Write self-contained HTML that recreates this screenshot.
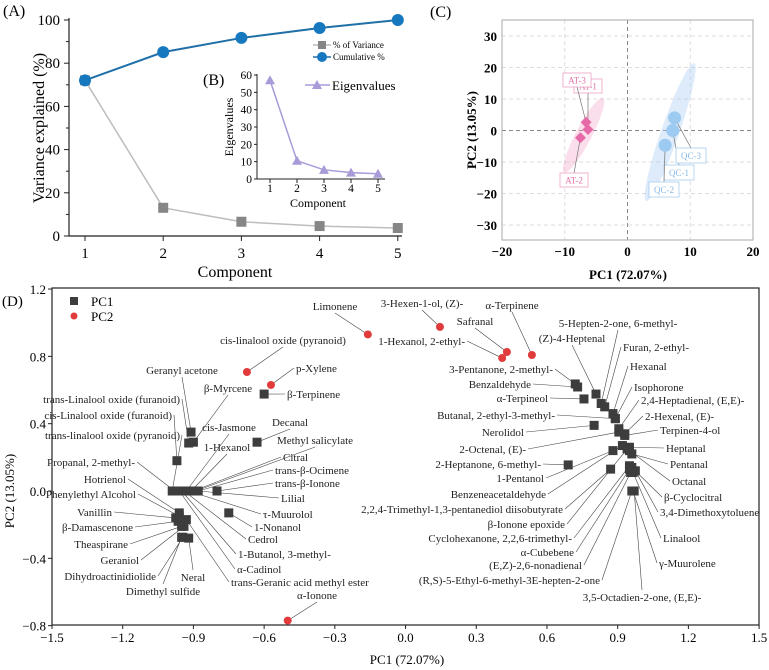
<!DOCTYPE html>
<html><head><meta charset="utf-8">
<style>
html,body{margin:0;padding:0;background:#fff;}
svg{display:block;font-family:"Liberation Serif","Times New Roman",serif;}
</style></head>
<body>
<svg id="fig" width="769" height="670" viewBox="0 0 769 670" xmlns="http://www.w3.org/2000/svg"></svg>
<script>
// ---------- Panel A/B data ----------
const components = [1, 2, 3, 4, 5];
const varianceVals = [72.07, 13.05, 6.6, 4.6, 3.7];
const cumulativeVals = [72.07, 85.12, 91.7, 96.3, 100];
const eigenVals = [57, 10.5, 5.3, 3.7, 3.0];
const aYTicks = [0, 20, 40, 60, 80, 100];
const bYTicks = [0, 10, 20, 30, 40, 50, 60];
// ---------- Panel C data ----------
const cXTicks = [-20, -10, 0, 10, 20];
const cYTicks = [-30, -20, -10, 0, 10, 20, 30];
const atNames = ["AT-1", "AT-2", "AT-3"];
const atPC1 = [-6.3, -7.5, -6.6];
const atPC2 = [0.3, -2.3, 2.6];
const qcNames = ["QC-1", "QC-2", "QC-3"];
const qcPC1 = [7.2, 6.0, 7.5];
const qcPC2 = [0.0, -4.7, 4.0];
// ---------- Panel D data ----------
const dXTicks = [-1.5, -1.2, -0.9, -0.6, -0.3, 0.0, 0.3, 0.6, 0.9, 1.2, 1.5];
const dYTicks = [-0.8, -0.4, 0.0, 0.4, 0.8, 1.2];
const dNames = ["Limonene","cis-linalool oxide (pyranoid)","p-Xylene","α-Ionone","3-Hexen-1-ol, (Z)-","Safranal","1-Hexanol, 2-ethyl-","α-Terpinene",
"Geranyl acetone","β-Myrcene","trans-Linalool oxide (furanoid)","cis-Linalool oxide (furanoid)","β-Terpinene","Decanal","cis-Jasmone","trans-linalool oxide (pyranoid)","1-Hexanol","Methyl salicylate","Citral","Propanal, 2-methyl-","trans-β-Ocimene","Hotrienol","trans-β-Ionone","Phenylethyl Alcohol","Lilial","Vanillin","τ-Muurolol","1-Nonanol","β-Damascenone","Cedrol","Theaspirane","1-Butanol, 3-methyl-","Geraniol","α-Cadinol","Dihydroactinidiolide","Neral","trans-Geranic acid methyl ester","Dimethyl sulfide",
"5-Hepten-2-one, 6-methyl-","(Z)-4-Heptenal","Furan, 2-ethyl-","Hexanal","3-Pentanone, 2-methyl-","Isophorone","Benzaldehyde","α-Terpineol","2,4-Heptadienal, (E,E)-","Butanal, 2-ethyl-3-methyl-","2-Hexenal, (E)-","Nerolidol","Terpinen-4-ol","2-Octenal, (E)-","Heptanal","2-Heptanone, 6-methyl-","Pentanal","1-Pentanol","Octanal","Benzeneacetaldehyde","β-Cyclocitral","2,2,4-Trimethyl-1,3-pentanediol diisobutyrate","3,4-Dimethoxytoluene","β-Ionone epoxide","Linalool","Cyclohexanone, 2,2,6-trimethyl-","α-Cubebene","γ-Muurolene","(E,Z)-2,6-nonadienal","(R,S)-5-Ethyl-6-methyl-3E-hepten-2-one","3,5-Octadien-2-one, (E,E)-"];
const dPC1 = [-0.16,-0.673,-0.571,-0.50,0.146,0.43,0.41,0.536,
-0.91,-0.90,-0.92,-0.97,-0.60,-0.63,-0.93,-0.99,-0.91,-0.89,-0.90,-0.98,-0.88,-0.96,-0.80,-0.96,-0.88,-0.975,-0.92,-0.75,-0.965,-0.94,-0.95,-0.95,-0.94,-0.96,-0.945,-0.92,-0.93,-0.95,
0.83,0.808,0.845,0.88,0.72,0.89,0.73,0.757,0.905,0.89,0.93,0.80,0.93,0.905,0.95,0.69,0.96,0.88,0.95,0.92,0.96,0.87,0.975,0.94,0.965,0.95,0.95,0.965,0.955,0.96,0.97];
const dPC2 = [0.93,0.707,0.63,-0.77,0.975,0.826,0.79,0.808,
0.35,0.29,0.285,0.18,0.576,0.29,0.0,0.0,0.0,0.0,0.0,0.0,0.0,-0.13,0.0,-0.15,0.0,-0.16,0.0,-0.13,-0.18,0.0,-0.21,0.0,-0.21,0.0,-0.275,-0.28,-0.17,-0.275,
0.52,0.576,0.50,0.46,0.636,0.43,0.618,0.547,0.37,0.43,0.34,0.39,0.33,0.35,0.26,0.155,0.22,0.24,0.24,0.27,0.14,0.13,0.12,0.25,0.11,0.15,0.13,0.0,0.11,0.0,0.0];
const dSeries = [2,2,2,2,2,2,2,2, 1,1,1,1,1,1,1,1,1,1,1,1,1,1,1,1,1,1,1,1,1,1,1,1,1,1,1,1,1,1, 1,1,1,1,1,1,1,1,1,1,1,1,1,1,1,1,1,1,1,1,1,1,1,1,1,1,1,1,1,1,1];
// label layout (pixel placement of annotation text: x, y, anchor)
const dLabelLayout = [[335,310,"m"],[283,344,"m"],[296,372,"s"],[317,599,"m"],[422,307,"m"],[475,325,"m"],[465,345,"e"],[512,309,"m"],
[182,374,"m"],[228,392,"m"],[180,403,"e"],[172,419,"e"],[287,398,"s"],[290,426,"m"],[229,431,"m"],[180,439,"e"],[227,451,"m"],[315,444,"m"],[283,461,"s"],[135,466,"e"],[275,474,"s"],[126,483,"e"],[275,487,"s"],[136,498,"e"],[281,502,"s"],[112,516,"e"],[263,518,"s"],[254,531,"s"],[133,531,"e"],[248,543,"s"],[128,548,"e"],[238,558,"s"],[139,564,"e"],[237,573,"s"],[156,580,"e"],[193,581,"m"],[231,586,"s"],[163,595,"m"],
[618,327,"m"],[572,342,"m"],[623,351,"s"],[630,370,"s"],[553,373,"e"],[634,391,"s"],[531,388,"e"],[548,402,"e"],[641,404,"s"],[555,419,"e"],[645,420,"s"],[524,436,"e"],[660,434,"s"],[526,453,"e"],[666,452,"s"],[541,468,"e"],[670,468,"s"],[544,482,"e"],[672,485,"s"],[546,498,"e"],[664,501,"s"],[563,513,"e"],[660,516,"s"],[565,528,"e"],[663,542,"s"],[572,542,"e"],[574,556,"e"],[659,567,"s"],[582,569,"e"],[600,584,"e"],[642,601,"m"]];

const svg = document.getElementById('fig');
const NS = "http://www.w3.org/2000/svg";
function mk(tag, attrs, text){
  const e = document.createElementNS(NS, tag);
  for (const k in attrs) e.setAttribute(k, attrs[k]);
  if (text !== undefined) e.textContent = text;
  svg.appendChild(e);
  return e;
}
let el;

// ================= Panel A =================
const xA = c => 85 + (c - 1) * 78.2;
const yA = v => 236 - v * 2.16;
el = mk('text', {x: 3, y: 16, 'font-size': 16}, '(A)');


el = mk('line', {x1: 69, y1: 18, x2: 69, y2: 236, stroke: '#222', 'stroke-width': 1.2});


el = mk('line', {x1: 69, y1: 236, x2: 402, y2: 236, stroke: '#222', 'stroke-width': 1.2});


for (const t of aYTicks) {
  el = mk('line', {x1: 64, y1: yA(t), x2: 69, y2: yA(t), stroke: '#222'});
  
  
  el = mk('text', {x: 60, y: yA(t) + 5, 'font-size': 15, 'text-anchor': 'end'}, String(t));
  
  
  if (t < 100) {
    el = mk('line', {x1: 66, y1: yA(t + 10), x2: 69, y2: yA(t + 10), stroke: '#222'});
    
    
  }
}
for (const c of components) {
  el = mk('line', {x1: xA(c), y1: 236, x2: xA(c), y2: 241, stroke: '#222'});
  
  
  el = mk('text', {x: xA(c), y: 258, 'font-size': 15, 'text-anchor': 'middle'}, String(c));
  
  
}
el = mk('text', {x: 235, y: 277, 'font-size': 16, 'text-anchor': 'middle'}, 'Component');


el = mk('text', {x: 0, y: 0, 'font-size': 16, 'text-anchor': 'middle', transform: 'translate(44,128) rotate(-90)'}, 'Variance explained (%)');


el = mk('polyline', {points: components.map((c, i) => xA(c) + ',' + yA(varianceVals[i])).join(' '), fill: 'none', stroke: '#bdbdbd', 'stroke-width': 1.5});


components.forEach((c, i) => {
  el = mk('rect', {x: xA(c) - 5, y: yA(varianceVals[i]) - 5, width: 10, height: 10, fill: '#868686'});
  
  
});
el = mk('polyline', {points: components.map((c, i) => xA(c) + ',' + yA(cumulativeVals[i])).join(' '), fill: 'none', stroke: '#1f6fa8', 'stroke-width': 2});


components.forEach((c, i) => {
  el = mk('circle', {cx: xA(c), cy: yA(cumulativeVals[i]), r: 6, fill: '#1678be'});
  
  
});
// legend A
el = mk('line', {x1: 313, y1: 45, x2: 331, y2: 45, stroke: '#aaa', 'stroke-width': 1.2});


el = mk('rect', {x: 318, y: 41, width: 8, height: 8, fill: '#868686'});


el = mk('text', {x: 333, y: 48, 'font-size': 9}, '% of Variance');


el = mk('line', {x1: 313, y1: 57, x2: 331, y2: 57, stroke: '#1f6fa8', 'stroke-width': 1.5});


el = mk('circle', {cx: 322, cy: 57, r: 5, fill: '#1678be'});


el = mk('text', {x: 333, y: 60, 'font-size': 9}, 'Cumulative %');



// ================= Panel B (inset) =================
const xB = c => 270 + (c - 1) * 27;
const yB = v => 179 - v * 1.733;
el = mk('text', {x: 203, y: 85, 'font-size': 16}, '(B)');


el = mk('line', {x1: 257, y1: 74, x2: 257, y2: 179, stroke: '#222'});


el = mk('line', {x1: 257, y1: 179, x2: 385, y2: 179, stroke: '#222'});


for (const t of bYTicks) {
  el = mk('line', {x1: 254, y1: yB(t), x2: 257, y2: yB(t), stroke: '#222'});
  
  
  el = mk('text', {x: 252, y: yB(t) + 4, 'font-size': 11.5, 'text-anchor': 'end'}, String(t));
  
  
}
for (const c of components) {
  el = mk('line', {x1: xB(c), y1: 179, x2: xB(c), y2: 183, stroke: '#222'});
  
  
  el = mk('text', {x: xB(c), y: 192, 'font-size': 11.5, 'text-anchor': 'middle'}, String(c));
  
  
}
el = mk('text', {x: 318, y: 207, 'font-size': 12, 'text-anchor': 'middle'}, 'Component');


el = mk('text', {x: 0, y: 0, 'font-size': 12, 'text-anchor': 'middle', transform: 'translate(233,127) rotate(-90)'}, 'Eigenvalues');


el = mk('polyline', {points: components.map((c, i) => xB(c) + ',' + yB(eigenVals[i])).join(' '), fill: 'none', stroke: '#a99ad8', 'stroke-width': 1.5});


components.forEach((c, i) => {
  const px = xB(c), py = yB(eigenVals[i]);
  el = mk('polygon', {points: `${px},${py - 5} ${px - 5},${py + 4} ${px + 5},${py + 4}`, fill: '#a99ad8'});
  
  
});
el = mk('line', {x1: 305, y1: 85, x2: 330, y2: 85, stroke: '#a99ad8', 'stroke-width': 1.5});


el = mk('polygon', {points: '317,80 312,89 322,89', fill: '#a99ad8'});


el = mk('text', {x: 332, y: 90, 'font-size': 13}, 'Eigenvalues');



// ================= Panel C =================
const xC = v => 627.5 + v * 6.275;
const yC = v => 130.5 - v * 3.15;
el = mk('text', {x: 430, y: 17, 'font-size': 16}, '(C)');


for (const t of cYTicks) {
  el = mk('line', {x1: 502, y1: yC(t), x2: 753, y2: yC(t), stroke: t === 0 ? '#888' : '#ddd', 'stroke-dasharray': '4,3', 'stroke-width': 1});
  
  
  el = mk('text', {x: 497, y: yC(t) + 5, 'font-size': 13, 'font-weight': 'bold', 'text-anchor': 'end'}, t < 0 ? '−' + Math.abs(t) : String(t));
  
  
}
for (const t of cXTicks) {
  el = mk('line', {x1: xC(t), y1: 20, x2: xC(t), y2: 240, stroke: t === 0 ? '#888' : '#ddd', 'stroke-dasharray': '4,3', 'stroke-width': 1});
  
  
  el = mk('text', {x: xC(t), y: 256, 'font-size': 13, 'font-weight': 'bold', 'text-anchor': 'middle'}, t < 0 ? '−' + Math.abs(t) : String(t));
  
  
}
el = mk('rect', {x: 502, y: 20, width: 251, height: 220, fill: 'none', stroke: '#aaa', 'stroke-width': 1});


el = mk('text', {x: 628, y: 279, 'font-size': 13, 'font-weight': 'bold', 'text-anchor': 'middle'}, 'PC1 (72.07%)');


el = mk('text', {x: 0, y: 0, 'font-size': 13, 'font-weight': 'bold', 'text-anchor': 'middle', transform: 'translate(476,130) rotate(-90)'}, 'PC2 (13.05%)');


el = mk('ellipse', {cx: xC(-7), cy: yC(-1.5), rx: 42, ry: 8, fill: 'rgba(244,160,200,0.35)', transform: `rotate(-62.5 ${xC(-7)} ${yC(-1.5)})`});


el = mk('ellipse', {cx: xC(6.8), cy: yC(-0.5), rx: 73, ry: 9, fill: 'rgba(170,205,242,0.4)', transform: `rotate(-70.8 ${xC(6.8)} ${yC(-0.5)})`});


const atBoxes = [[588, 86], [574, 180], [577, 80]];
const qcBoxes = [[679, 172], [664, 189], [691, 155]];
atNames.forEach((n, i) => {
  const px = xC(atPC1[i]), py = yC(atPC2[i]);
  const bx = atBoxes[i][0], by = atBoxes[i][1];
  el = mk('line', {x1: bx, y1: by + (by < py ? 7 : -7), x2: px, y2: py, stroke: '#777', 'stroke-width': 0.7});
  
  
  el = mk('polygon', {points: `${px},${py - 5.5} ${px + 5.5},${py} ${px},${py + 5.5} ${px - 5.5},${py}`, fill: '#e66aa8'});
  
  
  el = mk('rect', {x: bx - 14, y: by - 7, width: 28, height: 14, fill: '#fff', stroke: '#eea0c6', 'stroke-width': 0.8});
  
  
  el = mk('text', {x: bx, y: by + 3.5, 'font-size': 9, fill: '#e070a8', 'text-anchor': 'middle'}, n);
  
  
});
qcNames.forEach((n, i) => {
  const px = xC(qcPC1[i]), py = yC(qcPC2[i]);
  const bx = qcBoxes[i][0], by = qcBoxes[i][1];
  el = mk('line', {x1: bx, y1: by - 7, x2: px, y2: py, stroke: '#777', 'stroke-width': 0.7});
  
  
  el = mk('circle', {cx: px, cy: py, r: 6.5, fill: '#9ccaf0'});
  
  
  el = mk('rect', {x: bx - 15, y: by - 7, width: 30, height: 15, fill: '#fff', stroke: '#a6cdef', 'stroke-width': 0.8});
  
  
  el = mk('text', {x: bx, y: by + 4, 'font-size': 9, fill: '#86b8e4', 'text-anchor': 'middle'}, n);
  
  
});

// ================= Panel D =================
const xD = v => 52 + (v + 1.5) * 235.7;
const yD = v => 491 - v * 168.3;
el = mk('rect', {x: 52, y: 288, width: 707, height: 337, fill: 'none', stroke: '#222', 'stroke-width': 1.2});


el = mk('text', {x: 2, y: 306, 'font-size': 15}, '(D)');


for (const t of dXTicks) {
  el = mk('line', {x1: xD(t), y1: 625, x2: xD(t), y2: 629, stroke: '#222'});
  
  
  el = mk('text', {x: xD(t), y: 642, 'font-size': 13, 'text-anchor': 'middle'}, (t < 0 ? '−' : '') + Math.abs(t).toFixed(1));
  
  
}
for (const t of dYTicks) {
  el = mk('line', {x1: 48, y1: yD(t), x2: 52, y2: yD(t), stroke: '#222'});
  
  
  el = mk('text', {x: 46, y: yD(t) + 5, 'font-size': 13, 'text-anchor': 'end'}, (t < 0 ? '−' : '') + Math.abs(t).toFixed(1));
  
  
}
el = mk('text', {x: 407, y: 664, 'font-size': 13, 'text-anchor': 'middle'}, 'PC1 (72.07%)');


el = mk('text', {x: 0, y: 0, 'font-size': 13, 'text-anchor': 'middle', transform: 'translate(14,491) rotate(-90)'}, 'PC2 (13.05%)');


el = mk('rect', {x: 70, y: 297, width: 8, height: 8, fill: '#3d3d3d'});


el = mk('text', {x: 91, y: 306, 'font-size': 13}, 'PC1');


el = mk('circle', {cx: 74, cy: 316, r: 3.5, fill: '#e23b3b'});


el = mk('text', {x: 91, y: 321, 'font-size': 13}, 'PC2');


dNames.forEach((n, i) => {
  const px = xD(dPC1[i]), py = yD(dPC2[i]);
  const L = dLabelLayout[i];
  let sx = L[0], sy = L[1] - 4;
  if (L[2] === 'e') sx = L[0] + 2;
  else if (L[2] === 's') sx = L[0] - 2;
  else sy = py < L[1] ? L[1] - 11 : L[1] + 3;
  el = mk('line', {x1: sx, y1: sy, x2: px, y2: py, stroke: '#444', 'stroke-width': 0.6});
  
  
});
dNames.forEach((n, i) => {
  const px = xD(dPC1[i]), py = yD(dPC2[i]);
  if (dSeries[i] === 1) {
    el = mk('rect', {x: px - 4.5, y: py - 4.5, width: 9, height: 9, fill: '#3d3d3d'});
    
    
  } else {
    el = mk('circle', {cx: px, cy: py, r: 4, fill: '#e23b3b'});
    
    
  }
});
dNames.forEach((n, i) => {
  const L = dLabelLayout[i];
  const anchor = L[2] === 'e' ? 'end' : (L[2] === 's' ? 'start' : 'middle');
  el = mk('text', {x: L[0], y: L[1], 'font-size': 11, 'text-anchor': anchor, fill: '#222'}, n);
  
  
});
</script>
</body></html>
